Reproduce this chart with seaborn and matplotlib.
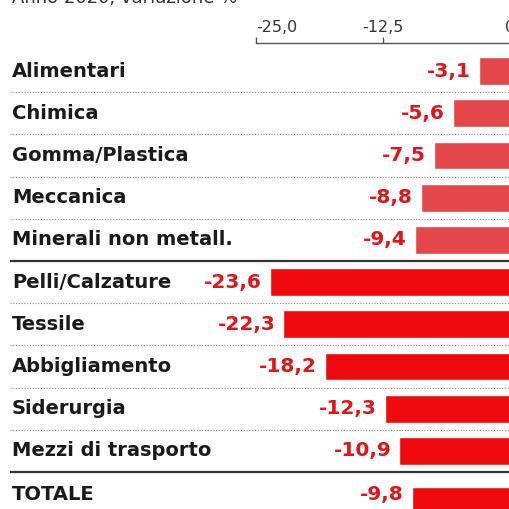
import matplotlib
matplotlib.use("Agg")
import matplotlib.pyplot as plt
import seaborn as sns
import pandas as pd
from matplotlib.transforms import offset_copy

# ---- data ----
sectors = ["Alimentari", "Chimica", "Gomma/Plastica", "Meccanica", "Minerali non metall.",
           "Pelli/Calzature", "Tessile", "Abbigliamento", "Siderurgia", "Mezzi di trasporto"]
values = [-3.1, -5.6, -7.5, -8.8, -9.4, -23.6, -22.3, -18.2, -12.3, -10.9]
groups = ["meno colpiti"] * 5 + ["più colpiti"] * 5
total_label = ["TOTALE"]
total_value = [-9.8]
ticks = [-25.0, -12.5, 0.0]
subtitle = "Anno 2020, variazione %"

# ---- style ----
sns.set_theme(style="white")
plt.rcParams["font.family"] = ["DejaVu Sans"]

LIGHT_RED = "#E3474C"
RED = "#F00A0F"
VAL_RED = "#E2141A"
INK = "#1a1a1a"
palette = {"meno colpiti": LIGHT_RED, "più colpiti": RED}

W, H = 510, 509
fig = plt.figure(figsize=(W / 100, H / 100), dpi=100)
fig.patch.set_facecolor("white")


def rect(top_px, bottom_px):
    return [0, 1 - bottom_px / H, 1, (bottom_px - top_px) / H]


ax = fig.add_axes(rect(49.9, 472.1))
ax2 = fig.add_axes(rect(479.9, 522.1))


def fmt(v):
    return "0" if v == 0 else f"{v:.1f}".replace(".", ",")


df = pd.DataFrame({"sector": sectors, "value": values, "group": groups})
sns.barplot(data=df, y="sector", x="value", hue="group", palette=palette,
            dodge=False, width=0.66, legend=False, saturation=1, ax=ax)

dft = pd.DataFrame({"sector": total_label, "value": total_value})
sns.barplot(data=dft, y="sector", x="value", color=RED, width=0.66,
            saturation=1, ax=ax2)

XMIN, XMAX = -50.2, -0.2
for a in (ax, ax2):
    a.set_xlim(XMIN, XMAX)
    a.set_ylabel("")
    a.set_xlabel("")
    a.set_yticks([])
    for s in a.spines.values():
        s.set_visible(False)
    a.set_facecolor("none")
ax.set_ylim(len(sectors) - 0.5, -0.5)
ax2.set_ylim(0.5, -0.5)
ax2.set_xticks([])

# top axis with ticks
ax.xaxis.tick_top()
ax.set_xticks(ticks)
ax.set_xticklabels([fmt(t) for t in ticks])
ax.spines["top"].set_visible(True)
ax.spines["top"].set_position(("outward", 5))
ax.spines["top"].set_bounds(-25, XMAX)
ax.spines["top"].set_color("#555555")
ax.spines["top"].set_linewidth(1.0)
ax.tick_params(axis="x", direction="out", length=4, width=1, color="#555555",
               labelsize=11.5, labelcolor="#333333", pad=2,
               top=True, bottom=False, labeltop=True, labelbottom=False)
ax.get_xticklabels()[0].set_ha("left")
for lbl, t in zip(ax.get_xticklabels(), ticks):
    lbl.set_clip_on(False)

# category labels
ytr = ax.get_yaxis_transform()
for i, s in enumerate(sectors):
    ax.text(12 / W, i, s, transform=ytr, ha="left", va="center",
            fontsize=14, fontweight="bold", color=INK)
TOT_Y = -0.15
ax2.text(12 / W, TOT_Y, total_label[0], transform=ax2.get_yaxis_transform(),
         ha="left", va="center", fontsize=14, fontweight="bold", color=INK)

# value labels
off1 = offset_copy(ax.transData, fig=fig, x=-8, y=0, units="dots")
for i, v in enumerate(values):
    ax.text(v, i, fmt(v), transform=off1, ha="right", va="center",
            fontsize=14.5, fontweight="bold", color=VAL_RED)
off2 = offset_copy(ax2.transData, fig=fig, x=-8, y=0, units="dots")
ax2.text(total_value[0], TOT_Y, fmt(total_value[0]), transform=off2, ha="right", va="center",
         fontsize=14.5, fontweight="bold", color=VAL_RED)

# separators
x0 = 10 / W
for k in range(len(sectors)):
    y = k + 0.5
    if k == 4 or k == len(sectors) - 1:
        ax.plot([x0, 1], [y, y], transform=ytr, color="#333333", lw=1.6,
                solid_capstyle="butt", clip_on=False)
    else:
        ax.plot([x0, 1], [y, y], transform=ytr, color="#8a8a8a", lw=0.8,
                ls=(0, (1, 1.5)), clip_on=False)

# clipped subtitle at the very top
fig.text(12 / W, 1 - 3 / H, subtitle, va="baseline", ha="left",
         fontsize=13, color="#333333")

fig.savefig("out.png", dpi=100, facecolor="white")
